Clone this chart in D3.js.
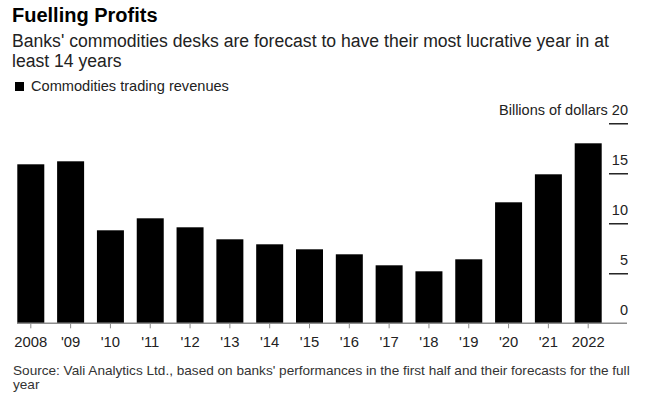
<!DOCTYPE html>
<html>
<head>
<meta charset="utf-8">
<script src="https://cdn.jsdelivr.net/npm/d3@7"></script>
<style>
  html, body { margin: 0; padding: 0; background: #fff; }
  svg { display: block; font-family: "Liberation Sans", Arial, Helvetica, sans-serif; }
</style>
</head>
<body>
<svg id="chart" width="656" height="397"></svg>
<script>
const years = ["2008", "'09", "'10", "'11", "'12", "'13", "'14", "'15", "'16", "'17", "'18", "'19", "'20", "'21", "2022"];
const revenues = [15.9, 16.2, 9.3, 10.5, 9.6, 8.4, 7.9, 7.4, 6.9, 5.8, 5.2, 6.4, 12.1, 14.9, 18.0];
const yTicks = [0, 5, 10, 15, 20];
const yTickLabels = ["0", "5", "10", "15", "20"];

const title = "Fuelling Profits";
const subtitleLines = ["Banks' commodities desks are forecast to have their most lucrative year in at", "least 14 years"];
const legendLabel = "Commodities trading revenues";
const unitLabel = "Billions of dollars";
const sourceLines = ["Source: Vali Analytics Ltd., based on banks' performances in the first half and their forecasts for the full", "year"];

const svg = d3.select("#chart");

// Headline
svg.append("text").attr("x", 12).attr("y", 22)
  .attr("font-size", 20).attr("font-weight", "bold").attr("fill", "#000")
  .text(title);

svg.selectAll("text.sub").data(subtitleLines).join("text")
  .attr("class", "sub")
  .attr("x", 12).attr("y", (d, i) => 46.5 + i * 20)
  .attr("font-size", 17.6).attr("fill", "#222")
  .text(d => d);

// Legend
svg.append("rect").attr("x", 15).attr("y", 82).attr("width", 9).attr("height", 9).attr("fill", "#000");
svg.append("text").attr("x", 31).attr("y", 91)
  .attr("font-size", 14.6).attr("fill", "#222").text(legendLabel);

// Scales
const x = d3.scaleBand().domain(years).range([17.3, 601.7]).paddingInner(0.322).paddingOuter(0);
const y = d3.scaleLinear().domain([0, 20]).range([323.3, 123.3]);

// Bars
svg.append("g").selectAll("rect").data(revenues).join("rect")
  .attr("x", (d, i) => x(years[i]))
  .attr("y", d => y(d))
  .attr("width", x.bandwidth())
  .attr("height", d => y(0) - y(d))
  .attr("fill", "#000");

// Y axis on right: short tick marks and labels above them
const yAxis = d3.axisRight(y).tickValues(yTicks.filter(v => v > 0)).tickSize(19).tickFormat("");
const gy = svg.append("g").attr("transform", "translate(609,0)").call(yAxis);
gy.select(".domain").remove();
gy.selectAll(".tick line").attr("stroke", "#000").attr("stroke-width", 1.3);

svg.append("g").selectAll("text").data(yTicks).join("text")
  .attr("x", 628).attr("y", d => y(d) - 8.5)
  .attr("text-anchor", "end").attr("font-size", 14.5).attr("fill", "#222")
  .text((d, i) => (d === 20 ? unitLabel + " " : "") + yTickLabels[i]);

// X axis
const xAxis = d3.axisBottom(x).tickSize(5).tickSizeOuter(0).tickPadding(8);
const gx = svg.append("g").attr("transform", `translate(0,${y(0)})`).call(xAxis);
gx.select(".domain").remove();
gx.append("line").attr("x1", 17).attr("x2", 627).attr("y1", 0).attr("y2", 0)
  .attr("stroke", "#8c8c8c").attr("stroke-width", 1.6);
gx.selectAll(".tick line").attr("stroke", "#8c8c8c").attr("stroke-width", 1);
gx.selectAll(".tick text").attr("font-size", 14.8).attr("fill", "#222")
  .attr("font-family", "'Liberation Sans', Arial, sans-serif");

// Source
svg.selectAll("text.src").data(sourceLines).join("text")
  .attr("class", "src")
  .attr("x", 13).attr("y", (d, i) => 375 + i * 14)
  .attr("font-size", 13.6).attr("fill", "#333")
  .text(d => d);
</script>
</body>
</html>
